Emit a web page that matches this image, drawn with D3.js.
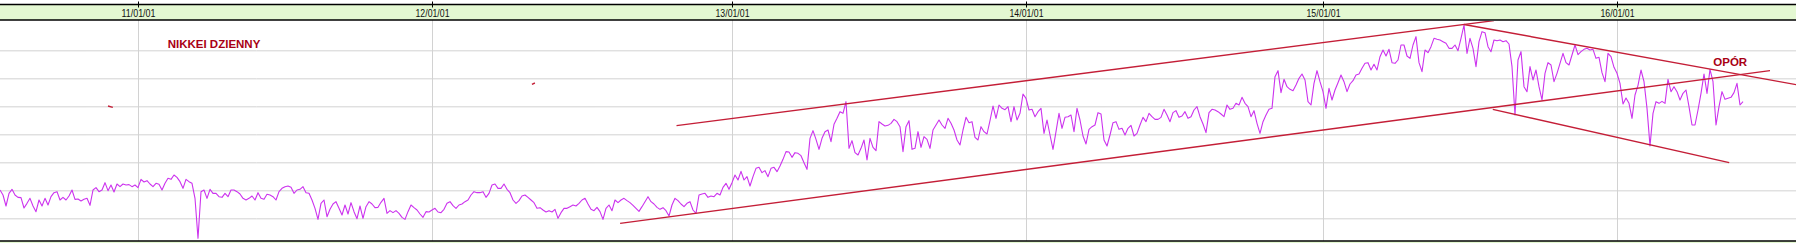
<!DOCTYPE html>
<html lang="pl">
<head>
<meta charset="UTF-8">
<script src="https://d3js.org/d3.v7.min.js"></script>
<title>Nikkei dzienny</title>
<style>
    body { margin: 0; background: #fff; }
    svg { display: block; }
</style>
</head>
<body>
<script>

// zamkniecia NIKKEI, co trzecia sesja (punkty indeksu)
var closes = [
 10700,10400,9740,10500,10740,10400,10260,10240,9620,9900,10200,9740,9400,10100,9740,10200,9800,10300,10540,10600,
 10100,10260,10100,10340,10700,10140,10160,10040,10140,10200,9780,10700,10840,10600,10700,11140,10660,11000,10580,11060,
 10900,11060,11000,11020,10900,11000,10840,11340,11180,11260,11060,10900,11100,11040,10700,11100,11400,11340,11600,11460,
 11200,10800,11340,11200,11100,10200,7800,10600,10700,10200,10740,10500,10500,10300,10260,10500,10300,10700,10700,10600,
 10460,10200,10100,10200,10340,10100,10540,10200,10140,10440,10400,10300,10100,10600,10800,10900,10940,10860,10500,10700,
 10740,10900,10540,10500,10100,9600,8940,9900,10100,9100,9540,9860,10000,9600,9200,9800,9260,9940,9400,8980,
 9740,9000,9700,10000,9860,9640,9660,9960,10200,9300,9460,9340,9460,9300,9060,8940,9400,9800,9640,9500,
 9260,9060,9400,9380,9500,9600,9380,9340,9540,9900,10000,9760,9600,9800,9860,10000,10100,10400,10600,10540,
 10540,10600,10260,10500,11000,11060,10800,10800,11060,10740,10540,10100,9900,10060,10340,10400,10260,10100,9940,9600,
 9640,9500,9380,9460,9380,9540,9000,9340,9600,9600,9700,9800,9740,9900,10100,10200,9860,9540,9460,9660,
 9400,8940,9600,9800,9460,10100,9940,10100,10200,10060,9940,9780,9600,9420,9700,10000,10300,10000,9860,9660,
 9540,9640,9460,9140,9800,10200,10060,9860,9700,9900,10000,9500,9300,10400,10460,10500,10260,10340,10300,10500,
 10400,10860,11100,10740,11140,11600,11300,11820,11300,11500,10940,11500,12000,12060,11740,11860,11500,12000,12060,11800,
 12140,12540,13000,12980,12660,12940,12900,12760,12340,11940,13800,14260,13740,13140,13800,14200,14300,13600,14640,15000,
 15400,15300,16000,13200,13660,12940,12800,13200,13700,12500,13800,13260,13060,14800,14660,14540,14580,14700,14940,14800,
 14500,13000,14500,14860,13140,13200,14200,13260,13900,13740,13200,14300,14600,14900,14600,14400,15000,14700,14300,13700,
 13400,14300,15060,14740,14800,13860,13700,14500,14200,14060,14860,15740,15000,15800,15600,15520,15700,14800,15700,14900,
 15300,16460,16200,15500,15540,15100,15400,15600,14100,14900,14000,13140,14200,15300,14400,15060,15100,15200,14200,15600,
 14900,13940,13460,14340,14500,14600,15340,15260,13700,13340,14000,14740,14800,14340,14400,14000,14400,14580,13940,14100,
 14600,15060,14800,15300,15100,14940,14940,15060,15540,15200,14800,15340,15460,15060,15140,15400,15000,15100,15500,15700,
 15100,14660,14140,15340,15540,15500,15400,15260,15100,15800,15540,15600,15900,15800,16260,15900,15700,15100,15460,14700,
 14100,14800,15200,15540,15600,17500,17860,16540,17340,16900,16740,16660,17000,17400,17660,17300,16000,15800,17100,17860,
 17200,16600,15600,16800,16100,16700,17140,17600,17200,16600,17060,17260,17600,17660,18000,18300,18340,17900,18240,17900,
 18700,19100,18740,19140,18340,18300,18500,19400,19400,18740,18600,19400,19900,18340,17800,19100,18940,19300,19800,19740,
 19700,19600,19500,19200,19200,19400,19060,19800,20600,18900,19800,19200,18100,19600,20200,20140,19300,19000,19700,19660,
 19700,19600,19660,19460,18100,15200,18500,19000,16900,16600,18100,17300,17900,16900,16100,17700,18340,18200,17200,17700,
 18300,18900,18340,18200,18800,19400,18820,19000,19140,19200,19100,19140,18600,18660,17740,17200,18900,18700,18060,17700,
 17100,15860,16220,15900,15000,16400,16980,17900,17200,15600,13340,15300,16000,15900,16020,15900,17340,16600,16900,16600,
 16100,16500,16700,15700,14600,14600,15500,16500,17660,16500,17940,17200,14600,15700,16600,16140,16200,16260,16540,17100,
 15800,16000
];

// sesje, w ktorych zaczyna sie rok
var tickSessions = [46, 144, 244, 342, 441, 539];
var tickLabels = ["11/01/01", "12/01/01", "13/01/01", "14/01/01", "15/01/01", "16/01/01"];

var gridValues = [9000, 10680, 12360, 14040, 15720, 17400, 19080];

// linie trendu: [sesja od, wartosc od, sesja do, wartosc do]
var trendLines = [
    [225.5, 14560, 498, 20860],
    [206.7, 8700, 590, 17860],
    [488, 20630, 598.7, 17020],
    [497.6, 15540, 576.4, 12340],
    [36, 15740, 37.6, 15660],
    [177.3, 17040, 178.3, 17120]
];

var notes = [
    {text: "NIKKEI DZIENNY", session: 55.9, value: 19240},
    {text: "OPÓR", session: 571.1, value: 18140}
];

var width = 1796, height = 243;
var bandTop = 4.5, plotTop = 20, plotBottom = 241;

var svg = d3.select("body")
    .append("svg")
    .attr("width", width)
    .attr("height", height);

var xScale = d3.scaleLinear()
    .domain([0, closes.length - 1])
    .range([0, 3 * (closes.length - 1)]);

var yScale = d3.scaleLinear()
    .domain([7640, 20900])
    .range([plotBottom, plotTop]);

// pasek z datami u gory i na dole
svg.append("rect")
    .attr("x", 0).attr("y", bandTop)
    .attr("width", width).attr("height", plotTop - bandTop)
    .attr("fill", "#e4f8d2");

svg.append("rect")
    .attr("x", 0).attr("y", plotBottom)
    .attr("width", width).attr("height", height - plotBottom)
    .attr("fill", "#e4f8d2");

// siatka
var yGrid = svg.append("g")
    .call(d3.axisLeft(yScale).tickValues(gridValues).tickSize(-width).tickFormat(""));
yGrid.select(".domain").remove();
yGrid.selectAll("line").attr("stroke", "#d2d2d2");

var xGrid = svg.append("g")
    .attr("transform", "translate(0," + plotTop + ")")
    .call(d3.axisBottom(xScale).tickValues(tickSessions).tickSize(plotBottom - plotTop).tickFormat(""));
xGrid.select(".domain").remove();
xGrid.selectAll("line").attr("stroke", "#d2d2d2");

// os z datami
var xAxis = svg.append("g")
    .attr("transform", "translate(0," + bandTop + ")")
    .call(d3.axisBottom(xScale)
        .tickValues(tickSessions)
        .tickFormat(function(d, i) { return tickLabels[i]; })
        .tickSize(3)
        .tickPadding(2));
xAxis.select(".domain").remove();
xAxis.selectAll("line").attr("y1", -3).attr("stroke", "#000");
xAxis.selectAll("text")
    .attr("fill", "#111")
    .attr("font-family", "'Liberation Sans', Arial, sans-serif")
    .attr("font-size", 10)
    .attr("textLength", 34)
    .attr("lengthAdjust", "spacingAndGlyphs");

// ramki
[bandTop, plotTop, plotBottom].forEach(function(y) {
    svg.append("line")
        .attr("x1", 0).attr("x2", width)
        .attr("y1", y).attr("y2", y)
        .attr("stroke", "#000")
        .attr("stroke-width", 1.4);
});

svg.append("clipPath")
    .attr("id", "plot")
    .append("rect")
    .attr("x", 0).attr("y", plotTop + 1)
    .attr("width", width).attr("height", plotBottom - plotTop - 2);

var plot = svg.append("g").attr("clip-path", "url(#plot)");

var line = d3.line()
    .x(function(d, i) { return xScale(i); })
    .y(function(d) { return yScale(d); });

plot.append("path")
    .datum(closes)
    .attr("d", line)
    .attr("fill", "none")
    .attr("stroke", "#cc33ee")
    .attr("stroke-width", 1.1)
    .attr("stroke-linejoin", "round");

plot.selectAll(".trend")
    .data(trendLines)
    .enter()
    .append("line")
    .attr("class", "trend")
    .attr("x1", function(d) { return xScale(d[0]); })
    .attr("y1", function(d) { return yScale(d[1]); })
    .attr("x2", function(d) { return xScale(d[2]); })
    .attr("y2", function(d) { return yScale(d[3]); })
    .attr("stroke", "#c41e37")
    .attr("stroke-width", 1.4);

svg.selectAll(".note")
    .data(notes)
    .enter()
    .append("text")
    .attr("class", "note")
    .attr("x", function(d) { return xScale(d.session); })
    .attr("y", function(d) { return yScale(d.value); })
    .attr("fill", "#a80014")
    .attr("font-family", "'Liberation Sans', Arial, sans-serif")
    .attr("font-weight", "bold")
    .attr("font-size", 11.5)
    .text(function(d) { return d.text; });

</script>
</body>
</html>
